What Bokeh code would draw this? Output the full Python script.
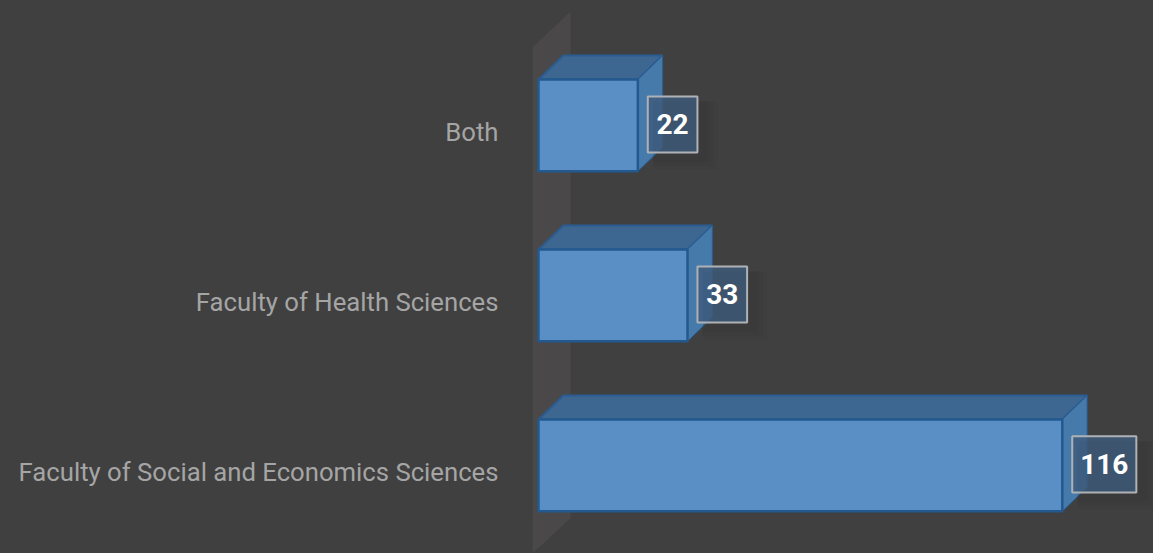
from bokeh.plotting import figure
from bokeh.embed import file_html
from bokeh.resources import INLINE
from bokeh.models import Range1d, FixedTicker
from bokeh.core.properties import value

categories = ["Faculty of Social and Economics Sciences", "Faculty of Health Sciences", "Both"]
values = [116, 33, 22]
value_labels = ["116", "33", "22"]
positions = [0, 1, 2]

BG = "#404040"
FONT = "Roboto"
DX, DY = 5.5, 0.141       # 3-D depth in data units
HALF = 0.27               # half bar thickness
GAP = 2.2                 # gap bar end -> label box
BOX_W = [14.2, 11.0, 11.0]
BOX_H = 0.165

p = figure(width=1153, height=553, output_backend="svg", toolbar_location=None,
           x_range=Range1d(-1.77, 136.2), y_range=Range1d(-0.518, 2.735),
           background_fill_color=BG, border_fill_color=BG, outline_line_color=None,
           min_border_left=530, min_border_right=0, min_border_top=0, min_border_bottom=0)
p.xaxis.visible = False
p.grid.visible = False
ax = p.yaxis[0]
label_pos = [y - 0.036 for y in positions]
ax.ticker = FixedTicker(ticks=label_pos)
ax.major_label_overrides = {t: c for t, c in zip(label_pos, categories)}
ax.axis_line_color = None
ax.major_tick_line_color = None
ax.minor_tick_line_color = None
ax.major_label_text_color = "#a5a5a5"
ax.major_label_text_font = FONT
ax.major_label_text_font_size = "25.7px"
ax.major_label_standoff = 26

# back wall
p.patch([-1.3, 7.1, 7.1, -1.3], [-0.518, -0.31, 2.67, 2.46], fill_color="#4b4849", line_color=None)

# bars: top, side, front
for y, v in zip(positions, values):
    p.patch([0, DX, v + DX, v], [y + HALF, y + HALF + DY, y + HALF + DY, y + HALF],
            fill_color="#3d6690", line_color="#2a5c91", line_width=2)
    p.patch([v, v + DX, v + DX, v], [y - HALF, y - HALF + DY, y + HALF + DY, y + HALF],
            fill_color="#457aab", line_color="#2a5c91", line_width=1)
p.quad(left=0, right=values, bottom=[y - HALF for y in positions], top=[y + HALF for y in positions],
       fill_color="#5a8fc6", line_color="#23598f", line_width=2.5)

# value label boxes with a soft shadow
lefts = [v + GAP for v in values]
rights = [l + w for l, w in zip(lefts, BOX_W)]
cy = [y + 0.006 for y in positions]
for grow, alpha in zip([3.2, 2.2, 1.2], [0.05, 0.06, 0.07]):
    p.quad(left=[l + 1.2 for l in lefts], right=[r + grow + 1.2 for r in rights],
           bottom=[c - BOX_H - grow * 0.022 - 0.03 for c in cy],
           top=[c + BOX_H - 0.03 for c in cy],
           fill_color="#262626", fill_alpha=alpha, line_color=None)
p.quad(left=lefts, right=rights, bottom=[c - BOX_H for c in cy], top=[c + BOX_H for c in cy],
       fill_color="#3f5b7c", fill_alpha=0.8, line_color="#aeb2b6", line_width=2)
p.text(x=[(l + r) / 2 for l, r in zip(lefts, rights)], y=cy, text=value_labels,
       text_color="#ffffff", text_font=value(FONT), text_font_style="bold",
       text_font_size="28px", text_align="center", text_baseline="middle")

html = file_html(p, INLINE)
html = html.replace("</head>", "<style>html,body{background:%s;}</style></head>" % BG, 1)
open("out.html", "w").write(html)
